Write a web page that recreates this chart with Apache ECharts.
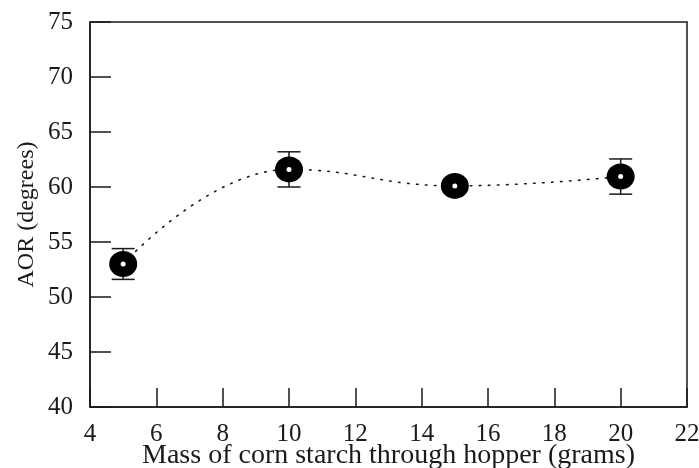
<!DOCTYPE html>
<html>
<head>
<meta charset="utf-8">
<script src="https://cdn.jsdelivr.net/npm/echarts@6/dist/echarts.min.js"></script>
<style>
  html, body { margin: 0; padding: 0; background: #fff; }
  #chart { width: 699px; height: 468px; }
</style>
</head>
<body>
<div id="chart"></div>
<script>
// Angle of repose vs. mass of corn starch passed through the hopper
const massGrams = [5, 10, 15, 20];
const aorDegrees = [53.0, 61.6, 60.1, 60.95];
const aorError = [1.4, 1.6, 0.6, 1.6];

const xTicks = [4, 6, 8, 10, 12, 14, 16, 18, 20, 22];
const yTicks = [40, 45, 50, 55, 60, 65, 70, 75];

const points = massGrams.map((m, i) => [m, aorDegrees[i]]);
const bars = massGrams.map((m, i) => [m, aorDegrees[i] - aorError[i], aorDegrees[i] + aorError[i]]);

const serif = '"Liberation Serif", "DejaVu Serif", serif';
const ink = '#1a1a1a';

const chart = echarts.init(document.getElementById('chart'), null, { renderer: 'canvas' });

chart.setOption({
  backgroundColor: '#ffffff',
  animation: false,
  grid: {
    left: 90, right: 12, top: 22, bottom: 61,
    outerBoundsMode: 'none',
    containLabel: false,
    show: true, borderColor: ink, borderWidth: 1.5
  },
  xAxis: {
    type: 'value',
    min: xTicks[0], max: xTicks[xTicks.length - 1], interval: 2,
    name: 'Mass of corn starch through hopper (grams)',
    nameLocation: 'middle', nameGap: 35,
    nameMoveOverlap: false,
    nameTextStyle: { fontFamily: serif, fontSize: 28, color: ink },
    axisLine: { show: true, lineStyle: { color: ink, width: 1.5 } },
    axisTick: { show: true, inside: true, length: 19, lineStyle: { color: ink, width: 1.5 } },
    axisLabel: { fontFamily: serif, fontSize: 25, color: ink, margin: 15 },
    splitLine: { show: false }
  },
  yAxis: {
    type: 'value',
    min: yTicks[0], max: yTicks[yTicks.length - 1], interval: 5,
    name: 'AOR (degrees)',
    nameLocation: 'middle', nameGap: 51,
    nameMoveOverlap: false,
    nameTextStyle: { fontFamily: serif, fontSize: 24, color: ink },
    axisLine: { show: true, lineStyle: { color: ink, width: 1.5 } },
    axisTick: { show: true, inside: true, length: 21, lineStyle: { color: ink, width: 1.5 } },
    axisLabel: { fontFamily: serif, fontSize: 25, color: ink, margin: 17 },
    splitLine: { show: false }
  },
  series: [
    {
      // dotted smooth fit through the means
      type: 'line',
      data: points,
      smooth: 0.45,
      symbol: 'none',
      z: 1,
      lineStyle: { color: ink, width: 1.6, type: [1.6, 7.4], cap: 'round' }
    },
    {
      // error bars with caps
      type: 'custom',
      z: 2,
      data: bars,
      renderItem: function (params, api) {
        const x = api.value(0);
        const lo = api.coord([x, api.value(1)]);
        const hi = api.coord([x, api.value(2)]);
        const half = 11.5;
        const style = { stroke: ink, lineWidth: 1.5 };
        return {
          type: 'group',
          children: [
            { type: 'line', shape: { x1: lo[0], y1: lo[1], x2: hi[0], y2: hi[1] }, style: style },
            { type: 'line', shape: { x1: hi[0] - half, y1: hi[1], x2: hi[0] + half, y2: hi[1] }, style: style },
            { type: 'line', shape: { x1: lo[0] - half, y1: lo[1], x2: lo[0] + half, y2: lo[1] }, style: style }
          ]
        };
      }
    },
    {
      // large filled markers
      type: 'scatter',
      data: points,
      symbol: 'circle',
      symbolSize: [28, 26],
      z: 3,
      itemStyle: { color: '#000000', opacity: 1 }
    },
    {
      // small white centre dot in each marker
      type: 'scatter',
      data: points,
      symbol: 'circle',
      symbolSize: 5,
      z: 4,
      itemStyle: { color: '#ffffff', opacity: 1 }
    }
  ]
});
</script>
</body>
</html>
